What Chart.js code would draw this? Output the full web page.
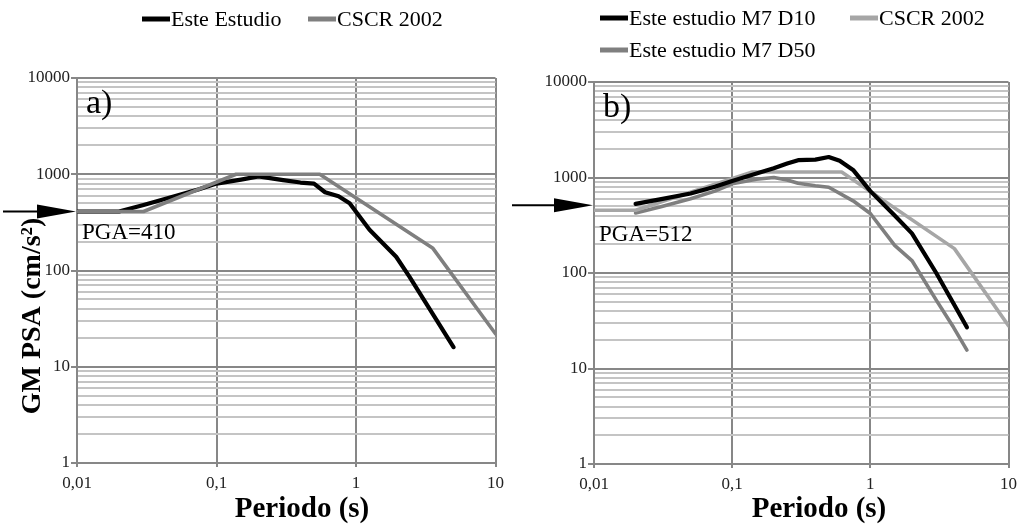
<!DOCTYPE html>
<html><head><meta charset="utf-8">
<script src="https://cdn.jsdelivr.net/npm/chart.js@4.4.1/dist/chart.umd.min.js"></script>
<style>
html,body{margin:0;padding:0;background:#fff;}
#wrap{position:relative;width:1023px;height:525px;overflow:hidden;}
#cA{position:absolute;left:0;top:0;}
#cB{position:absolute;left:510px;top:0;}
</style></head><body>
<div id="wrap"><canvas id="cA" width="510" height="525"></canvas><canvas id="cB" width="513" height="525"></canvas></div>
<script>
// ---------- data ----------
// Panel a)
const periodsA_est  = [0.01,0.02,0.03,0.05,0.075,0.1,0.15,0.2,0.3,0.4,0.5,0.6,0.75,0.9,1.25,1.94,2.42,5];
const psaA_est      = [410,410,480,590,700,800,880,950,870,820,800,650,590,500,265,139,86,16];
const periodsA_cscr = [0.01,0.03,0.138,0.55,3.56,10];
const psaA_cscr     = [410,410,1000,1000,170,22];
// Panel b)
const periodsB_d10  = [0.02,0.03,0.05,0.075,0.1,0.15,0.2,0.25,0.3,0.4,0.5,0.6,0.75,1,1.5,2,3,4,5];
const psaB_d10      = [530,590,680,800,920,1100,1250,1400,1520,1540,1640,1500,1200,720,400,260,100,48,27];
const periodsB_d50  = [0.02,0.03,0.05,0.075,0.1,0.15,0.2,0.25,0.3,0.4,0.5,0.75,1,1.5,2,3,4,5];
const psaB_d50      = [425,490,600,720,860,960,1000,940,870,820,790,570,420,195,135,52,27,15.6];
const periodsB_cscr = [0.01,0.02,0.14,0.62,4.06,10];
const psaB_cscr     = [454,454,1140,1140,180,28];

const labelsA = ['Este Estudio','CSCR 2002'];
const labelsB = ['Este estudio M7 D10','CSCR 2002','Este estudio M7 D50'];
const pgaA = 410, pgaB = 512;

// axis ticks
const xTickValues = [0.01,0.1,1,10];
const xTickLabels = ['0,01','0,1','1','10'];
const yDecades    = [1,10,100,1000,10000];
const yTickLabels = ['1','10','100','1000','10000'];
const xTitle = 'Periodo (s)';
const yTitle = 'GM PSA (cm/s\u00B2)';

// ---------- helpers ----------
const SERIF = '"Liberation Serif","Times New Roman",serif';
const MAJOR = '#878787', MINOR = '#c4c4c4';
function pts(xs, ys){ return xs.map((x,i)=>({x:x, y:ys[i]})); }
function yTickValues(){
  const out=[];
  for(let d=0; d<yDecades.length; d++){
    const b=yDecades[d]; out.push(b);
    if(d<yDecades.length-1){ for(let k=2;k<=9;k++) out.push(b*k); }
  }
  return out;
}
function isDecade(v){ return yDecades.indexOf(v) >= 0; }

function scales(leftW, bottomH){
  return {
    x:{type:'logarithmic', min:0.01, max:10,
      afterBuildTicks:s=>{ s.ticks = xTickValues.map(v=>({value:v})); },
      afterFit:s=>{ s.height = bottomH; },
      ticks:{autoSkip:false, maxRotation:0, padding:6, color:'#222',
        font:{family:SERIF,size:17},
        callback:(v,i)=>xTickLabels[xTickValues.indexOf(v)] ?? ''},
      grid:{color:MAJOR, lineWidth:2, tickLength:4, tickColor:MAJOR},
      border:{color:MAJOR, width:2}
    },
    y:{type:'logarithmic', min:1, max:10000,
      afterBuildTicks:s=>{ s.ticks = yTickValues().map(v=>({value:v})); },
      afterFit:s=>{ s.width = leftW; },
      ticks:{autoSkip:false, padding:1, color:'#222',
        font:{family:SERIF,size:17},
        callback:(v)=>{ const i=yDecades.indexOf(v); return i>=0? yTickLabels[i] : ''; }},
      grid:{lineWidth:2, tickLength:6,
        color:c=> (c.tick && isDecade(c.tick.value)) ? MAJOR : MINOR,
        tickColor:c=> (c.tick && isDecade(c.tick.value)) ? MAJOR : 'rgba(0,0,0,0)'},
      border:{color:MAJOR, width:2}
    }
  };
}

function ds(label, xs, ys, color, w){
  return {label, data:pts(xs,ys), borderColor:color, backgroundColor:color,
    borderWidth:w, pointRadius:0, tension:0, fill:false,
    borderJoinStyle:'round', borderCapStyle:'round'};
}

const overlay = {
  id:'overlay',
  afterDraw(chart, args, o){
    const ctx = chart.ctx, ca = chart.chartArea, ys = chart.scales.y;
    ctx.save();
    // legend
    ctx.textBaseline='middle'; ctx.textAlign='left';
    ctx.font = '22px '+SERIF;
    o.legend.forEach(it=>{
      const d = chart.data.datasets[it.i];
      ctx.strokeStyle = d.borderColor; ctx.lineWidth = 5; ctx.lineCap='butt';
      ctx.beginPath(); ctx.moveTo(it.x, it.y); ctx.lineTo(it.x+28, it.y); ctx.stroke();
      ctx.fillStyle = '#000'; ctx.fillText(d.label, it.x+29, it.y+1);
    });
    // panel letter
    ctx.font = '34px '+SERIF; ctx.textBaseline='alphabetic'; ctx.fillStyle='#000';
    ctx.fillText(o.letter, ca.left+9, ca.top+35);
    // PGA text
    ctx.font = '23px '+SERIF;
    ctx.fillText('PGA='+o.pga, ca.left+5, o.pgaBase);
    // arrow
    const ay = ys.getPixelForValue(o.pga);
    ctx.strokeStyle='#000'; ctx.fillStyle='#000'; ctx.lineWidth=2;
    ctx.beginPath(); ctx.moveTo(o.arrowX0, ay); ctx.lineTo(ca.left-30, ay); ctx.stroke();
    ctx.beginPath(); ctx.moveTo(ca.left-1, ay); ctx.lineTo(ca.left-40, ay-7); ctx.lineTo(ca.left-40, ay+7); ctx.closePath(); ctx.fill();
    // x title
    ctx.font = 'bold 29px '+SERIF; ctx.textAlign='center'; ctx.textBaseline='alphabetic';
    ctx.fillText(xTitle, o.xTitleX, 517);
    // y title
    if(o.yTitle){
      ctx.save(); ctx.translate(o.yTitleX, o.yTitleY); ctx.rotate(-Math.PI/2);
      ctx.font = 'bold 28px '+SERIF; ctx.textAlign='center'; ctx.textBaseline='middle';
      ctx.fillText(yTitle, 0, 0); ctx.restore();
    }
    ctx.restore();
  }
};

const common = {responsive:false, devicePixelRatio:1, animation:false,
  plugins:{legend:{display:false}, tooltip:{enabled:false}}};

new Chart(document.getElementById('cA'), {
  type:'line',
  data:{datasets:[
    ds(labelsA[1], periodsA_cscr, psaA_cscr, '#7f7f7f', 3.6),
    ds(labelsA[0], periodsA_est, psaA_est, '#000000', 4.2)
  ]},
  options:Object.assign({}, common, {
    layout:{padding:{top:78, right:14, left:0, bottom:0}},
    scales:scales(77, 62),
    plugins:{legend:{display:false}, tooltip:{enabled:false},
      overlay:{legend:[{i:1,x:142,y:19},{i:0,x:308,y:19}], letter:'a)', pga:pgaA, pgaBase:239,
        arrowX0:3, xTitleX:302, yTitle:true, yTitleX:33, yTitleY:316}}
  }),
  plugins:[overlay]
});

new Chart(document.getElementById('cB'), {
  type:'line',
  data:{datasets:[
    ds(labelsB[0], periodsB_d10, psaB_d10, '#000000', 4.2),
    ds(labelsB[1], periodsB_cscr, psaB_cscr, '#a6a6a6', 3.6),
    ds(labelsB[2], periodsB_d50, psaB_d50, '#7f7f7f', 3.6)
  ]},
  options:Object.assign({}, common, {
    layout:{padding:{top:82, right:11, left:0, bottom:0}},
    scales:scales(84, 61),
    plugins:{legend:{display:false}, tooltip:{enabled:false},
      overlay:{legend:[{i:0,x:90,y:18},{i:1,x:340,y:18},{i:2,x:90,y:50}], letter:'b)', pga:pgaB, pgaBase:241,
        arrowX0:2, xTitleX:309, yTitle:false}}
  }),
  plugins:[overlay]
});
</script>
</body></html>
